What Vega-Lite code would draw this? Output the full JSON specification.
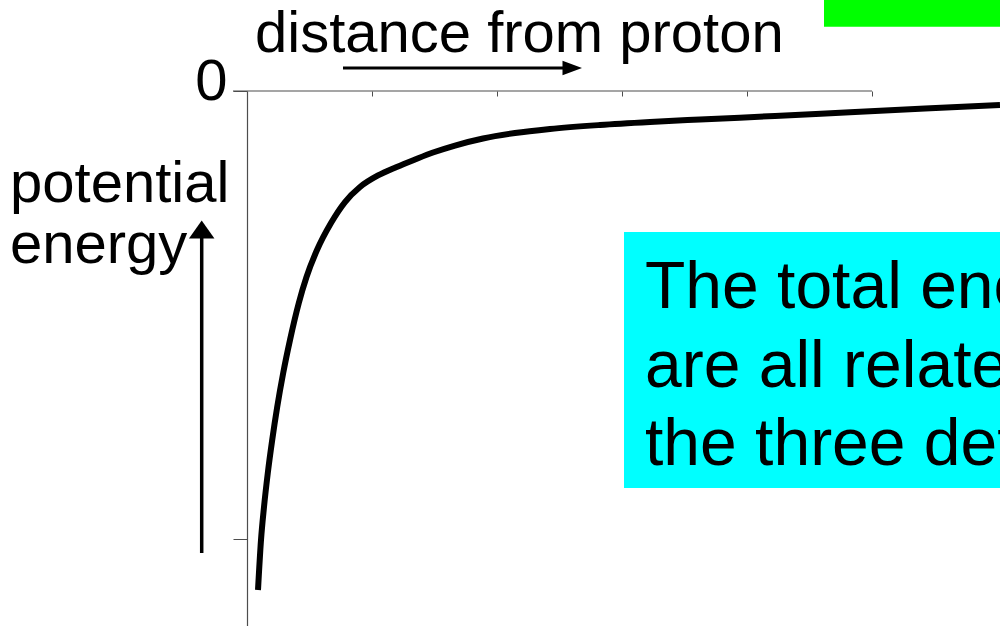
{
  "$schema": "https://vega.github.io/schema/vega-lite/v6.json",
  "width": 753,
  "height": 535,
  "autosize": {"type": "none"},
  "padding": {"left": 247, "top": 91, "right": 0, "bottom": 0},
  "background": "white",
  "config": {"view": {"stroke": null}, "font": "Liberation Sans"},
  "datasets": {
    "curve": [
      {"distance": 0.088, "energy": -1.1138},
      {"distance": 0.112, "energy": -1.0022},
      {"distance": 0.136, "energy": -0.9286},
      {"distance": 0.1664, "energy": -0.8527},
      {"distance": 0.2016, "energy": -0.779},
      {"distance": 0.2416, "energy": -0.7054},
      {"distance": 0.2896, "energy": -0.6295},
      {"distance": 0.344, "energy": -0.5558},
      {"distance": 0.4144, "energy": -0.4732},
      {"distance": 0.476, "energy": -0.4152},
      {"distance": 0.56, "energy": -0.3549},
      {"distance": 0.672, "energy": -0.2946},
      {"distance": 0.784, "energy": -0.2478},
      {"distance": 0.904, "energy": -0.2143},
      {"distance": 1.048, "energy": -0.1886},
      {"distance": 1.1976, "energy": -0.1696},
      {"distance": 1.344, "energy": -0.1529},
      {"distance": 1.488, "energy": -0.1373},
      {"distance": 1.664, "energy": -0.1217},
      {"distance": 1.888, "energy": -0.106},
      {"distance": 2.144, "energy": -0.0938},
      {"distance": 2.424, "energy": -0.0848},
      {"distance": 2.824, "energy": -0.0759},
      {"distance": 3.224, "energy": -0.0692},
      {"distance": 3.624, "energy": -0.0636},
      {"distance": 4.224, "energy": -0.0558},
      {"distance": 4.824, "energy": -0.0475},
      {"distance": 5.424, "energy": -0.0393},
      {"distance": 6.024, "energy": -0.03125}
    ],
    "one": [{}]
  },
  "layer": [
    {
      "data": {"name": "one"},
      "mark": {"type": "rect", "color": "#00ffff"},
      "encoding": {
        "x": {"datum": 3.016, "type": "quantitative", "scale": {"domain": [0, 6.024], "nice": false, "zero": false},
              "axis": {"orient": "bottom", "offset": -535, "domain": false, "grid": false, "labels": false, "title": null, "values": [1, 2, 3, 4, 5], "tickSize": 5, "tickColor": "#4d4d4d", "tickWidth": 1}},
        "x2": {"datum": 6.3},
        "y": {"datum": -0.3147, "type": "quantitative", "scale": {"domain": [-1.1942, 0], "nice": false, "zero": false},
              "axis": {"orient": "left", "values": [0, -1], "grid": false, "title": null, "domainColor": "#4d4d4d", "domainWidth": 1.2, "tickColor": "#4d4d4d", "tickSize": 14, "tickWidth": 1, "labelExpr": "datum.value === 0 ? '0' : ''", "labelFontSize": 58, "labelFont": "Liberation Sans", "labelColor": "black", "labelPadding": 6, "labelBaseline": "alphabetic", "labelOffset": 8, "labelFlush": false, "labelOverlap": false, "labelBound": false}},
        "y2": {"datum": -0.8862}
      }
    },
    {
      "data": {"name": "one"},
      "mark": {"type": "rect", "color": "#00ff00"},
      "encoding": {
        "x": {"datum": 4.616, "type": "quantitative", "scale": {"domain": [0, 6.024], "nice": false, "zero": false},
              "axis": {"orient": "bottom", "offset": -535, "domain": false, "grid": false, "labels": false, "title": null, "values": [1, 2, 3, 4, 5], "tickSize": 5, "tickColor": "#4d4d4d", "tickWidth": 1}},
        "x2": {"datum": 6.3},
        "y": {"datum": 0.25, "type": "quantitative", "scale": {"domain": [-1.1942, 0], "nice": false, "zero": false},
              "axis": {"orient": "left", "values": [0, -1], "grid": false, "title": null, "domainColor": "#4d4d4d", "domainWidth": 1.2, "tickColor": "#4d4d4d", "tickSize": 14, "tickWidth": 1, "labelExpr": "datum.value === 0 ? '0' : ''", "labelFontSize": 58, "labelFont": "Liberation Sans", "labelColor": "black", "labelPadding": 6, "labelBaseline": "alphabetic", "labelOffset": 8, "labelFlush": false, "labelOverlap": false, "labelBound": false}},
        "y2": {"datum": 0.1435}
      }
    },
    {
      "data": {"name": "one"},
      "mark": {"type": "rule", "color": "#4d4d4d", "strokeWidth": 1.2},
      "encoding": {
        "x": {"datum": -0.112, "type": "quantitative", "scale": {"domain": [0, 6.024], "nice": false, "zero": false},
              "axis": {"orient": "bottom", "offset": -535, "domain": false, "grid": false, "labels": false, "title": null, "values": [1, 2, 3, 4, 5], "tickSize": 5, "tickColor": "#4d4d4d", "tickWidth": 1}},
        "x2": {"datum": 5},
        "y": {"datum": 0, "type": "quantitative", "scale": {"domain": [-1.1942, 0], "nice": false, "zero": false},
              "axis": {"orient": "left", "values": [0, -1], "grid": false, "title": null, "domainColor": "#4d4d4d", "domainWidth": 1.2, "tickColor": "#4d4d4d", "tickSize": 14, "tickWidth": 1, "labelExpr": "datum.value === 0 ? '0' : ''", "labelFontSize": 58, "labelFont": "Liberation Sans", "labelColor": "black", "labelPadding": 6, "labelBaseline": "alphabetic", "labelOffset": 8, "labelFlush": false, "labelOverlap": false, "labelBound": false}}
      }
    },
    {
      "data": {"name": "curve"},
      "mark": {"type": "line", "color": "black", "strokeWidth": 6, "interpolate": "monotone", "strokeCap": "butt"},
      "encoding": {
        "x": {"field": "distance", "type": "quantitative", "scale": {"domain": [0, 6.024], "nice": false, "zero": false},
              "axis": {"orient": "bottom", "offset": -535, "domain": false, "grid": false, "labels": false, "title": null, "values": [1, 2, 3, 4, 5], "tickSize": 5, "tickColor": "#4d4d4d", "tickWidth": 1}},
        "y": {"field": "energy", "type": "quantitative", "scale": {"domain": [-1.1942, 0], "nice": false, "zero": false},
              "axis": {"orient": "left", "values": [0, -1], "grid": false, "title": null, "domainColor": "#4d4d4d", "domainWidth": 1.2, "tickColor": "#4d4d4d", "tickSize": 14, "tickWidth": 1, "labelExpr": "datum.value === 0 ? '0' : ''", "labelFontSize": 58, "labelFont": "Liberation Sans", "labelColor": "black", "labelPadding": 6, "labelBaseline": "alphabetic", "labelOffset": 8, "labelFlush": false, "labelOverlap": false, "labelBound": false}}
      }
    },
    {
      "data": {"name": "one"},
      "mark": {"type": "rule", "color": "black", "strokeWidth": 3},
      "encoding": {
        "x": {"datum": 0.768, "type": "quantitative", "scale": {"domain": [0, 6.024], "nice": false, "zero": false},
              "axis": {"orient": "bottom", "offset": -535, "domain": false, "grid": false, "labels": false, "title": null, "values": [1, 2, 3, 4, 5], "tickSize": 5, "tickColor": "#4d4d4d", "tickWidth": 1}},
        "x2": {"datum": 2.55},
        "y": {"datum": 0.0513, "type": "quantitative", "scale": {"domain": [-1.1942, 0], "nice": false, "zero": false},
              "axis": {"orient": "left", "values": [0, -1], "grid": false, "title": null, "domainColor": "#4d4d4d", "domainWidth": 1.2, "tickColor": "#4d4d4d", "tickSize": 14, "tickWidth": 1, "labelExpr": "datum.value === 0 ? '0' : ''", "labelFontSize": 58, "labelFont": "Liberation Sans", "labelColor": "black", "labelPadding": 6, "labelBaseline": "alphabetic", "labelOffset": 8, "labelFlush": false, "labelOverlap": false, "labelBound": false}}
      }
    },
    {
      "data": {"name": "one"},
      "mark": {"type": "point", "shape": "M-1,-0.75L1,0L-1,0.75Z", "size": 380, "filled": true, "color": "black", "opacity": 1, "strokeWidth": 0},
      "encoding": {
        "x": {"datum": 2.602, "type": "quantitative", "scale": {"domain": [0, 6.024], "nice": false, "zero": false},
              "axis": {"orient": "bottom", "offset": -535, "domain": false, "grid": false, "labels": false, "title": null, "values": [1, 2, 3, 4, 5], "tickSize": 5, "tickColor": "#4d4d4d", "tickWidth": 1}},
        "y": {"datum": 0.0513, "type": "quantitative", "scale": {"domain": [-1.1942, 0], "nice": false, "zero": false},
              "axis": {"orient": "left", "values": [0, -1], "grid": false, "title": null, "domainColor": "#4d4d4d", "domainWidth": 1.2, "tickColor": "#4d4d4d", "tickSize": 14, "tickWidth": 1, "labelExpr": "datum.value === 0 ? '0' : ''", "labelFontSize": 58, "labelFont": "Liberation Sans", "labelColor": "black", "labelPadding": 6, "labelBaseline": "alphabetic", "labelOffset": 8, "labelFlush": false, "labelOverlap": false, "labelBound": false}}
      }
    },
    {
      "data": {"name": "one"},
      "mark": {"type": "rule", "color": "black", "strokeWidth": 3.5},
      "encoding": {
        "x": {"datum": -0.3624, "type": "quantitative", "scale": {"domain": [0, 6.024], "nice": false, "zero": false},
              "axis": {"orient": "bottom", "offset": -535, "domain": false, "grid": false, "labels": false, "title": null, "values": [1, 2, 3, 4, 5], "tickSize": 5, "tickColor": "#4d4d4d", "tickWidth": 1}},
        "y": {"datum": -1.03125, "type": "quantitative", "scale": {"domain": [-1.1942, 0], "nice": false, "zero": false},
              "axis": {"orient": "left", "values": [0, -1], "grid": false, "title": null, "domainColor": "#4d4d4d", "domainWidth": 1.2, "tickColor": "#4d4d4d", "tickSize": 14, "tickWidth": 1, "labelExpr": "datum.value === 0 ? '0' : ''", "labelFontSize": 58, "labelFont": "Liberation Sans", "labelColor": "black", "labelPadding": 6, "labelBaseline": "alphabetic", "labelOffset": 8, "labelFlush": false, "labelOverlap": false, "labelBound": false}},
        "y2": {"datum": -0.32}
      }
    },
    {
      "data": {"name": "one"},
      "mark": {"type": "point", "shape": "M-1,0.7L0,-0.7L1,0.7Z", "size": 650, "filled": true, "color": "black", "opacity": 1, "strokeWidth": 0},
      "encoding": {
        "x": {"datum": -0.3624, "type": "quantitative", "scale": {"domain": [0, 6.024], "nice": false, "zero": false},
              "axis": {"orient": "bottom", "offset": -535, "domain": false, "grid": false, "labels": false, "title": null, "values": [1, 2, 3, 4, 5], "tickSize": 5, "tickColor": "#4d4d4d", "tickWidth": 1}},
        "y": {"datum": -0.3092, "type": "quantitative", "scale": {"domain": [-1.1942, 0], "nice": false, "zero": false},
              "axis": {"orient": "left", "values": [0, -1], "grid": false, "title": null, "domainColor": "#4d4d4d", "domainWidth": 1.2, "tickColor": "#4d4d4d", "tickSize": 14, "tickWidth": 1, "labelExpr": "datum.value === 0 ? '0' : ''", "labelFontSize": 58, "labelFont": "Liberation Sans", "labelColor": "black", "labelPadding": 6, "labelBaseline": "alphabetic", "labelOffset": 8, "labelFlush": false, "labelOverlap": false, "labelBound": false}}
      }
    },
    {
      "data": {"name": "one"},
      "mark": {"type": "text", "text": "distance from proton", "fontSize": 58, "font": "Liberation Sans", "align": "left", "baseline": "alphabetic", "color": "black"},
      "encoding": {
        "x": {"datum": 0.064, "type": "quantitative", "scale": {"domain": [0, 6.024], "nice": false, "zero": false},
              "axis": {"orient": "bottom", "offset": -535, "domain": false, "grid": false, "labels": false, "title": null, "values": [1, 2, 3, 4, 5], "tickSize": 5, "tickColor": "#4d4d4d", "tickWidth": 1}},
        "y": {"datum": 0.0871, "type": "quantitative", "scale": {"domain": [-1.1942, 0], "nice": false, "zero": false},
              "axis": {"orient": "left", "values": [0, -1], "grid": false, "title": null, "domainColor": "#4d4d4d", "domainWidth": 1.2, "tickColor": "#4d4d4d", "tickSize": 14, "tickWidth": 1, "labelExpr": "datum.value === 0 ? '0' : ''", "labelFontSize": 58, "labelFont": "Liberation Sans", "labelColor": "black", "labelPadding": 6, "labelBaseline": "alphabetic", "labelOffset": 8, "labelFlush": false, "labelOverlap": false, "labelBound": false}}
      }
    },
    {
      "data": {"name": "one"},
      "mark": {"type": "text", "text": ["potential", "energy"], "lineHeight": 60.7, "fontSize": 58, "font": "Liberation Sans", "align": "left", "baseline": "alphabetic", "color": "black"},
      "encoding": {
        "x": {"datum": -1.896, "type": "quantitative", "scale": {"domain": [0, 6.024], "nice": false, "zero": false},
              "axis": {"orient": "bottom", "offset": -535, "domain": false, "grid": false, "labels": false, "title": null, "values": [1, 2, 3, 4, 5], "tickSize": 5, "tickColor": "#4d4d4d", "tickWidth": 1}},
        "y": {"datum": -0.2478, "type": "quantitative", "scale": {"domain": [-1.1942, 0], "nice": false, "zero": false},
              "axis": {"orient": "left", "values": [0, -1], "grid": false, "title": null, "domainColor": "#4d4d4d", "domainWidth": 1.2, "tickColor": "#4d4d4d", "tickSize": 14, "tickWidth": 1, "labelExpr": "datum.value === 0 ? '0' : ''", "labelFontSize": 58, "labelFont": "Liberation Sans", "labelColor": "black", "labelPadding": 6, "labelBaseline": "alphabetic", "labelOffset": 8, "labelFlush": false, "labelOverlap": false, "labelBound": false}}
      }
    },
    {
      "data": {"name": "one"},
      "mark": {"type": "text", "text": ["The total energy", "are all related", "the three determine"], "lineHeight": 78.5, "fontSize": 66, "font": "Liberation Sans", "align": "left", "baseline": "alphabetic", "color": "black"},
      "encoding": {
        "x": {"datum": 3.184, "type": "quantitative", "scale": {"domain": [0, 6.024], "nice": false, "zero": false},
              "axis": {"orient": "bottom", "offset": -535, "domain": false, "grid": false, "labels": false, "title": null, "values": [1, 2, 3, 4, 5], "tickSize": 5, "tickColor": "#4d4d4d", "tickWidth": 1}},
        "y": {"datum": -0.4844, "type": "quantitative", "scale": {"domain": [-1.1942, 0], "nice": false, "zero": false},
              "axis": {"orient": "left", "values": [0, -1], "grid": false, "title": null, "domainColor": "#4d4d4d", "domainWidth": 1.2, "tickColor": "#4d4d4d", "tickSize": 14, "tickWidth": 1, "labelExpr": "datum.value === 0 ? '0' : ''", "labelFontSize": 58, "labelFont": "Liberation Sans", "labelColor": "black", "labelPadding": 6, "labelBaseline": "alphabetic", "labelOffset": 8, "labelFlush": false, "labelOverlap": false, "labelBound": false}}
      }
    }
  ]
}
